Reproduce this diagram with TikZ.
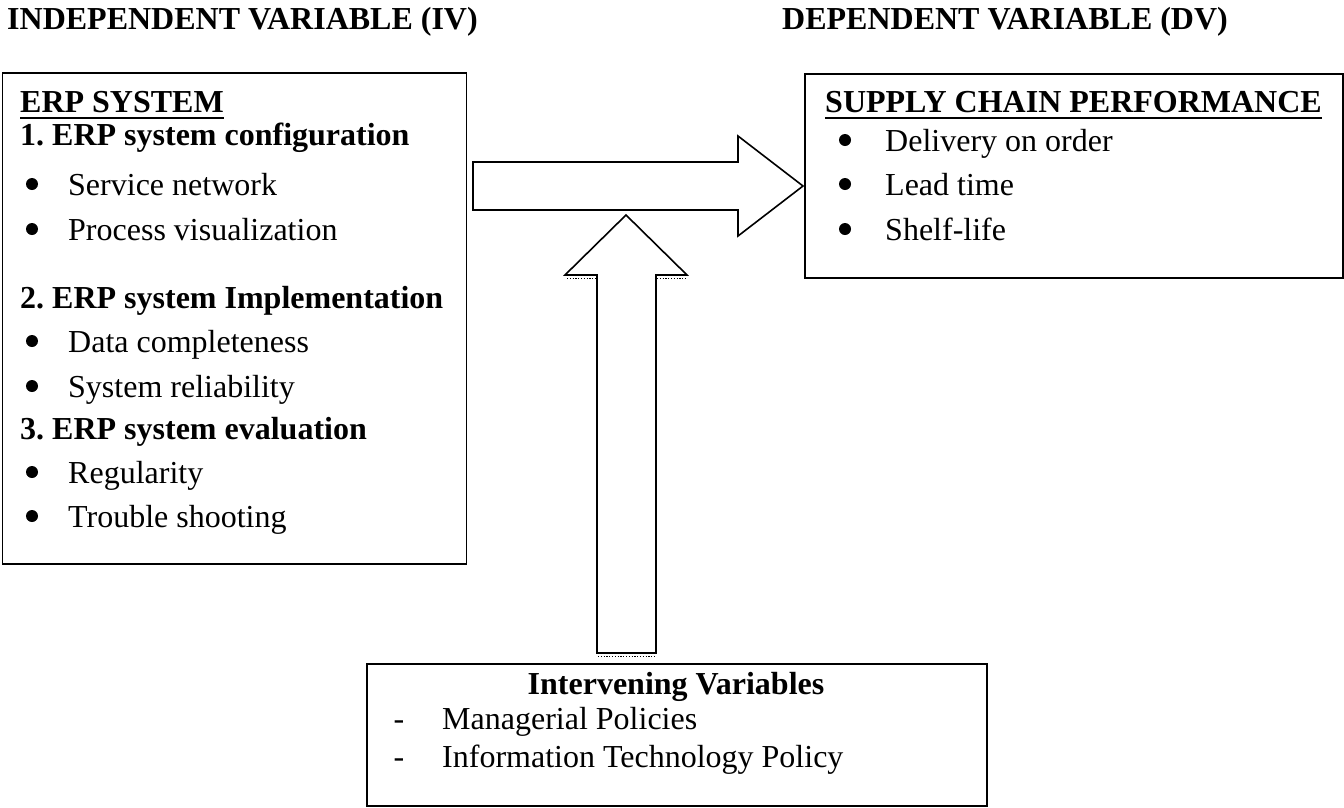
\documentclass[tikz,border=0pt]{standalone}
\usepackage{fontspec}
\setmainfont{Liberation Serif}
\usetikzlibrary{calc}
\begin{document}
\begin{tikzpicture}[x=1pt,y=-1pt,
  box/.style={draw, line width=1.6pt, inner sep=0pt, anchor=north west},
  txt/.style={inner sep=0pt, anchor=base west, font=\fontsize{32}{38}\selectfont},
  btxt/.style={inner sep=0pt, anchor=base west, font=\fontsize{32}{38}\selectfont\bfseries},
  bul/.style={circle, fill, inner sep=0pt, minimum size=12pt},
  hyph/.style={inner sep=0pt, anchor=base, font=\fontsize{32}{38}\selectfont},
  ul/.style={line width=1.8pt},
  blk/.style={draw, line width=1.6pt, fill=white, line join=miter},
  fringe/.style={line width=0.9pt, dash pattern=on 1.2pt off 1.6pt}]
\useasboundingbox (0,0) rectangle (1344,807);

% boxes
\node[box, minimum width=464pt, minimum height=491pt] (ivbox) at (1.5,72) {};
\node[box, minimum width=538pt, minimum height=204pt] (dvbox) at (804,73) {};
\node[box, minimum width=620pt, minimum height=142pt] (inbox) at (366,663) {};

% titles
\node[btxt] (ivtitle) at (7,29) {INDEPENDENT VARIABLE (IV)};
\node[btxt] (dvtitle) at (782,29) {DEPENDENT VARIABLE (DV)};

% left box content
\node[btxt] (erp) at (20,112) {ERP SYSTEM};
\draw[ul] ($(erp.base west)+(0,6)$) -- ($(erp.base east)+(0,6)$);
\node[btxt] (c1) at (20,145) {1.\ ERP system configuration};
\node[bul] (b11) at (32,184) {};
\node[txt] (t11) at (68,195) {Service network};
\node[bul] (b12) at (32,229) {};
\node[txt] (t12) at (68,240) {Process visualization};
\node[btxt] (c2) at (20,308) {2.\ ERP system Implementation};
\node[bul] (b21) at (32,341) {};
\node[txt] (t21) at (68,352) {Data completeness};
\node[bul] (b22) at (32,386) {};
\node[txt] (t22) at (68,397) {System reliability};
\node[btxt] (c3) at (20,439) {3.\ ERP system evaluation};
\node[bul] (b31) at (32,472) {};
\node[txt] (t31) at (68,483) {Regularity};
\node[bul] (b32) at (32,516) {};
\node[txt] (t32) at (68,527) {Trouble shooting};

% right box content
\node[btxt] (scp) at (825,112) {SUPPLY CHAIN PERFORMANCE};
\draw[ul] ($(scp.base west)+(0,6)$) -- ($(scp.base east)+(0,6)$);
\node[bul] (d1) at (845,140) {};
\node[txt] (e1) at (885,151) {Delivery on order};
\node[bul] (d2) at (845,184) {};
\node[txt] (e2) at (885,195) {Lead time};
\node[bul] (d3) at (845,229) {};
\node[txt] (e3) at (885,240) {Shelf-life};

% bottom box content
\node[btxt, anchor=base] (intv) at (676,694) {Intervening Variables};
\node[hyph] (h1) at (399,729) {-};
\node[txt] (m1) at (442,729) {Managerial Policies};
\node[hyph] (h2) at (399,767) {-};
\node[txt] (m2) at (442,767) {Information Technology Policy};

% block arrows
\coordinate (htip) at (803,186);
\coordinate (vtip) at (626,215);
\draw[blk] (473,162) -- (738,162) -- (738,136) -- (htip) -- (738,236) -- (738,210) -- (473,210) -- cycle;
\draw[blk] (597,653) -- (597,275) -- (565,275) -- (vtip) -- (687,275) -- (656,275) -- (656,653) -- cycle;
\draw[fringe] (567,278.5) -- (596,278.5);
\draw[fringe] (657,278.5) -- (686,278.5);
\draw[fringe] (598,656.5) -- (655,656.5);
\end{tikzpicture}
\end{document}
